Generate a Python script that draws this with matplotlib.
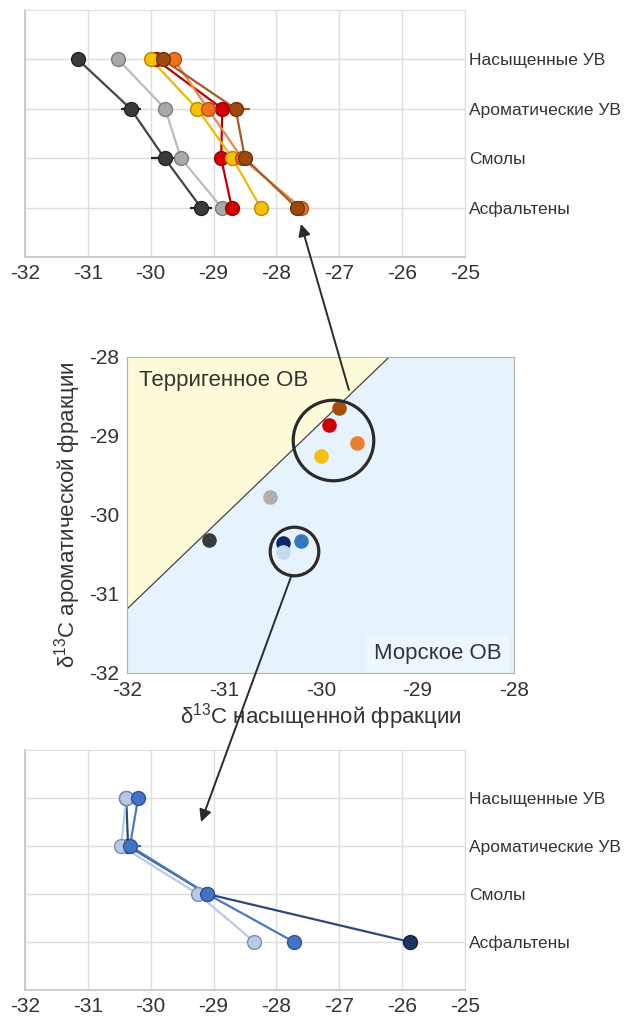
import matplotlib
matplotlib.use("Agg")
import matplotlib.pyplot as plt
from matplotlib.patches import ConnectionPatch


# ── Data ──────────────────────────────────────────────────────────────────
CATEGORIES = ["Насыщенные УВ", "Ароматические УВ", "Смолы", "Асфальтены"]

# top panel (values per category, in CATEGORIES order)
DARK   = [-31.16, -30.32, -29.78, -29.20]
GRAY   = [-30.52, -29.77, -29.52, -28.87]
RED    = [-29.92, -28.86, -28.88, -28.71]
YELLOW = [-30.00, -29.26, -28.70, -28.25]
ORANGE = [-29.63, -29.09, -28.55, -27.61]
BROWN  = [-29.81, -28.65, -28.50, -27.68]
DARK_ERR  = [0.0, 0.16, 0.22, 0.17]
BROWN_ERR = [0.0, 0.23, 0.0, 0.0]

# bottom panel
LIGHT = [-30.39, -30.47, -29.25, -28.35]
MID   = [-30.20, -30.33, -29.10, -27.72]
NAVY  = [-30.39, -30.36, -29.10, -25.87]
NAVY_ERR = [0.0, 0.2, 0.0, 0.0]

# boundary terrigenous / marine
BOUNDARY_X = [-32.0, -29.29]
BOUNDARY_Y = [-31.19, -28.0]

# highlighted groups (centre of circle in middle panel)
BIG_CIRCLE   = (-29.87, -29.06)
SMALL_CIRCLE = (-30.28, -30.46)


# ── Style ─────────────────────────────────────────────────────────────────
plt.rcParams["font.family"] = ["Liberation Sans", "DejaVu Sans"]
plt.rcParams["mathtext.fontset"] = "custom"
plt.rcParams["mathtext.rm"] = "Liberation Sans"
plt.rcParams["mathtext.default"] = "regular"

TXT   = "#333333"
GRID  = "#dedede"
SPINE = "#c4c4c4"

TOP_SERIES = [
    # values, face, edge, line
    (DARK,   "#3a3a3a", "#222222", "#444444"),
    (GRAY,   "#a9a9a9", "#7d7d7d", "#bcbcbc"),
    (RED,    "#d40000", "#9a0000", "#c00000"),
    (YELLOW, "#f7c000", "#b48a00", "#f2b800"),
    (ORANGE, "#f26f1e", "#b24e10", "#e8874a"),
    (BROWN,  "#9c4a0e", "#6d3309", "#a85a20"),
]

BOTTOM_SERIES = [
    (NAVY,  "#1d3461", "#10203f", "#2a4a78"),
    (LIGHT, "#b6c9e8", "#7f8ea8", "#b9cbe6"),
    (MID,   "#4472c4", "#2f5597", "#4a78c6"),
]

MID_POINTS = [
    (DARK,   "#3a3a3a"),
    (GRAY,   "#b0b0b0"),
    (RED,    "#cc0000"),
    (YELLOW, "#f7c010"),
    (ORANGE, "#ef7d2e"),
    (BROWN,  "#a3500f"),
    (NAVY,   "#0b2a6b"),
    (LIGHT,  "#c3dbf1"),
    (MID,    "#3779bf"),
]


# ── Helpers ───────────────────────────────────────────────────────────────

def profile_axes(ax):
    ax.set_xlim(-32, -25)
    ax.set_ylim(4, -1)
    ax.set_xticks(range(-32, -24))
    ax.set_xticklabels([str(v) for v in range(-32, -24)])
    ax.set_yticks(range(len(CATEGORIES)))
    ax.set_yticklabels(CATEGORIES)
    ax.yaxis.tick_right()
    ax.tick_params(axis="y", length=0, pad=3, labelsize=12.5, colors=TXT)
    ax.tick_params(axis="x", length=0, pad=5, labelsize=15, colors=TXT)
    ax.grid(True, color=GRID, lw=1)
    ax.set_axisbelow(True)
    for side in ["top", "right"]:
        ax.spines[side].set_color(GRID)
    for side in ["left", "bottom"]:
        ax.spines[side].set_color(SPINE)
        ax.spines[side].set_linewidth(1.2)


def draw_profile(ax, vals, face, edge, line, err=None):
    y = list(range(len(CATEGORIES)))
    ax.plot(vals, y, color=line, lw=1.6, zorder=3)
    if err is not None:
        ax.errorbar(vals, y, xerr=err, fmt="none", ecolor=edge,
                    elinewidth=1.6, capsize=0, zorder=3)
    ax.plot(vals, y, "o", ms=10, mfc=face, mec=edge, mew=1, zorder=4)


def dashed_err(ax, vals, err, color):
    bars = ax.errorbar(vals, range(len(CATEGORIES)), xerr=err, fmt="none",
                       ecolor=color, elinewidth=1.6, zorder=3)
    bars[2][0].set_linestyle((0, (3, 2)))


# ── Figure ────────────────────────────────────────────────────────────────
fig = plt.figure(figsize=(6.24, 10.17), dpi=100)

ax_top = fig.add_axes([25 / 624, 1 - 257 / 1017, 440 / 624, 247 / 1017])
ax_mid = fig.add_axes([127.3 / 624, 1 - 672.7 / 1017, 387 / 624, 316 / 1017])
ax_bot = fig.add_axes([25 / 624, 1 - 990 / 1017, 440 / 624, 240 / 1017])

# top panel
profile_axes(ax_top)
for vals, face, edge, line in TOP_SERIES:
    if vals is DARK:
        draw_profile(ax_top, vals, face, edge, line, err=DARK_ERR)
    elif vals is BROWN:
        dashed_err(ax_top, vals, BROWN_ERR, line)
        draw_profile(ax_top, vals, face, edge, line)
    else:
        draw_profile(ax_top, vals, face, edge, line)

# bottom panel
profile_axes(ax_bot)
for vals, face, edge, line in BOTTOM_SERIES:
    if vals is NAVY:
        dashed_err(ax_bot, vals, NAVY_ERR, "#3a64a8")
    draw_profile(ax_bot, vals, face, edge, line)

# middle panel
ax_mid.set_xlim(-32, -28)
ax_mid.set_ylim(-32, -28)
ax_mid.set_facecolor("#e7f3fc")
ax_mid.fill([BOUNDARY_X[0], BOUNDARY_X[1], BOUNDARY_X[0]],
            [BOUNDARY_Y[0], BOUNDARY_Y[1], BOUNDARY_Y[1]],
            color="#fdfbd9", lw=0, zorder=1)
ax_mid.plot(BOUNDARY_X, BOUNDARY_Y, color="#444444", lw=0.9, zorder=2)
for vals, col in MID_POINTS:
    ax_mid.plot(vals[0], vals[1], "o", ms=10.5, color=col, mec="none", zorder=4)
ax_mid.plot(*BIG_CIRCLE, "o", ms=58, mfc="none", mec="#2b2b2b", mew=2.3, zorder=5)
ax_mid.plot(*SMALL_CIRCLE, "o", ms=35, mfc="none", mec="#2b2b2b", mew=2.3, zorder=5)

ax_mid.text(0.031, 0.926, "Терригенное ОВ", transform=ax_mid.transAxes,
            fontsize=16, color=TXT, va="center", ha="left", zorder=6)
ax_mid.text(0.967, 0.061, "Морское ОВ", transform=ax_mid.transAxes,
            fontsize=16, color=TXT, va="center", ha="right", zorder=6,
            bbox=dict(boxstyle="square,pad=0.35", fc="#edf7fe", ec="none"))

ax_mid.set_xticks(range(-32, -27))
ax_mid.set_yticks(range(-32, -27))
ax_mid.set_xticklabels([str(v) for v in range(-32, -27)])
ax_mid.set_yticklabels([str(v) for v in range(-32, -27)])
ax_mid.tick_params(length=0, labelsize=15, colors=TXT, pad=6)
for side in ax_mid.spines.values():
    side.set_color("#b0b0b0")
ax_mid.set_xlabel(r"δ$^{13}$C насыщенной фракции", fontsize=16, color=TXT, labelpad=1)
ax_mid.set_ylabel(r"δ$^{13}$C ароматической фракции", fontsize=16, color=TXT, labelpad=4)

# ── Arrows between panels ─────────────────────────────────────────────────
arrow_top = ConnectionPatch(xyA=(-29.71, -28.42), coordsA=ax_mid.transData,
                            xyB=(-27.61, 3.33), coordsB=ax_top.transData,
                            arrowstyle="-|>", mutation_scale=18, lw=1.4,
                            color="#2b2b2b")
fig.add_artist(arrow_top)

arrow_bot = ConnectionPatch(xyA=(-30.30, -30.76), coordsA=ax_mid.transData,
                            xyB=(-29.2, 0.5), coordsB=ax_bot.transData,
                            arrowstyle="-|>", mutation_scale=18, lw=1.4,
                            color="#2b2b2b")
fig.add_artist(arrow_bot)

fig.savefig("out.png", dpi=100)
